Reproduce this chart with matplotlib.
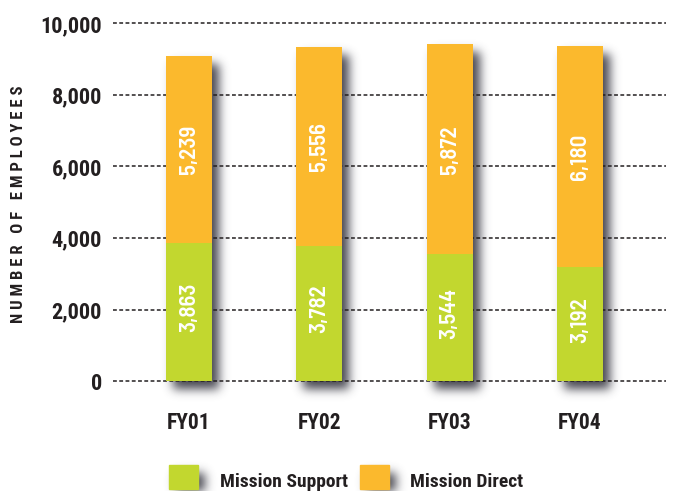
import matplotlib
matplotlib.use("Agg")
import matplotlib.pyplot as plt
import numpy as np
from matplotlib.patches import Rectangle

years = ["FY01", "FY02", "FY03", "FY04"]
mission_support = [3863, 3782, 3544, 3192]
mission_direct = [5239, 5556, 5872, 6180]
yticks = [0, 2000, 4000, 6000, 8000, 10000]

GREEN = "#c2d72f"
ORANGE = "#fbb92d"
INK = "#231f20"
BOLDFACE = ["Roboto Condensed", "Barlow Condensed", "Archivo Narrow",
            "PT Sans Narrow", "DejaVu Sans"]
NUMFACE = ["Barlow Semi Condensed", "Roboto Condensed", "DejaVu Sans"]
W, H = 673, 491


def blur(a, sigma):
    r = int(3 * sigma)
    k = np.exp(-0.5 * (np.arange(-r, r + 1) / sigma) ** 2)
    k /= k.sum()
    a = np.apply_along_axis(lambda v: np.convolve(v, k, mode="same"), 0, a)
    return np.apply_along_axis(lambda v: np.convolve(v, k, mode="same"), 1, a)


fig = plt.figure(figsize=(W / 100, H / 100), dpi=100)
ax = fig.add_axes([113 / W, 110 / H, 553 / W, 357.5 / H], zorder=1)
ax.patch.set_facecolor("none")

x = np.arange(len(years))
bw = 0.353
ax.bar(x, mission_support, width=bw, color=GREEN, zorder=3)
ax.bar(x, mission_direct, bottom=mission_support, width=bw,
       color=ORANGE, zorder=3)

for xi, s, d in zip(x, mission_support, mission_direct):
    ax.text(xi, s / 2 + 120, f"{s:,}", rotation=90, ha="center", va="center",
            color="white", fontsize=16.5, fontweight="semibold", family=NUMFACE,
            zorder=4)
    ax.text(xi, s + d / 2, f"{d:,}", rotation=90, ha="center", va="center",
            color="white", fontsize=16.5, fontweight="semibold", family=NUMFACE,
            zorder=4)

ax.set_xlim(-0.583, 3.66)
ax.set_ylim(0, 10000)
ax.set_yticks(yticks)
ax.set_yticklabels([f"{v:,}" for v in yticks], fontsize=16,
                   fontweight="bold", family=BOLDFACE, color=INK)
ax.set_xticks(x)
ax.set_xticklabels(years, fontsize=15.5, fontweight="bold", family=BOLDFACE,
                   color=INK)
ax.tick_params(axis="y", length=0, pad=8)
ax.tick_params(axis="x", length=0, pad=22)
ax.yaxis.grid(True, linestyle=(0, (2.5, 1.6)), color=INK, linewidth=1.1)
for gl in ax.get_ygridlines():
    gl.set_clip_on(False)
ax.set_axisbelow(True)
for sp in ax.spines.values():
    sp.set_visible(False)

fig.text(19 / W, 1 - 204.5 / H, "N U M B E R   O F   E M P L O Y E E S",
         rotation=90, ha="center", va="center", fontsize=12,
         fontweight="bold", family=BOLDFACE, color=INK)

# legend swatches and labels (pixel boxes, y measured from the top)
legend = [(169, GREEN, "Mission Support", 220), (360, ORANGE, "Mission Direct", 410)]
boxes = []
for lx, col, lab, tx in legend:
    fig.add_artist(Rectangle((lx / W, 1 - 489 / H), 29 / W, 24 / H,
                             transform=fig.transFigure, color=col, zorder=3))
    boxes.append((lx, H - 489, lx + 29, H - 465))
    fig.text(tx / W, 1 - 487 / H, lab, ha="left", va="baseline", fontsize=14,
             fontweight="bold", family=BOLDFACE, color=INK)

# bar outlines in pixels, taken from the data transform
for xi, tot in zip(x, np.add(mission_support, mission_direct)):
    (px0, py0), (px1, py1) = ax.transData.transform([(xi - bw / 2, 0),
                                                     (xi + bw / 2, tot)])
    boxes.append((px0, py0, px1, py1))

# soft drop shadow behind every bar and swatch
mask = np.zeros((H, W))
for bx0, by0, bx1, by1 in boxes:
    c0, c1 = int(round(bx0)) + 7, int(round(bx1)) + 7
    r0, r1 = max(int(round(by0)) - 8, 0), max(int(round(by1)) - 8, 0)
    mask[r0:r1, c0:c1] = 1
mask = blur(mask, 5.0)
shadow = np.zeros((H, W, 4))
shadow[..., 0] = 0.24
shadow[..., 1] = 0.24
shadow[..., 2] = 0.28
shadow[..., 3] = np.clip(mask, 0, 1) * 0.95

bg = fig.add_axes([0, 0, 1, 1], zorder=0)
bg.imshow(shadow, origin="lower", extent=(0, W, 0, H), interpolation="bilinear")
bg.set_xlim(0, W)
bg.set_ylim(0, H)
bg.axis("off")

fig.savefig("out.png", dpi=100)
